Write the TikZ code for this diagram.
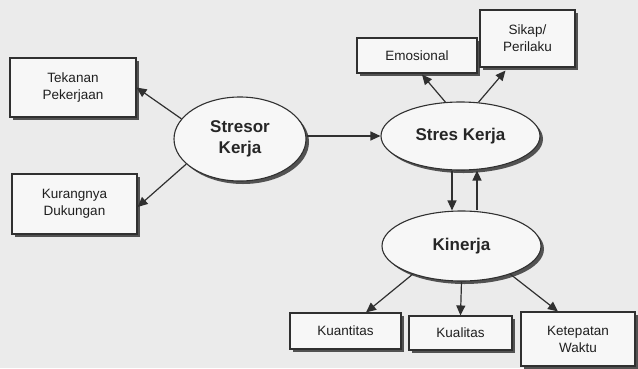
\documentclass[tikz,border=0pt]{standalone}
\usepackage{fontspec}
\setmainfont{Liberation Sans}
\usetikzlibrary{shapes.geometric,shadows,arrows.meta}
\definecolor{bgc}{HTML}{EBEBEB}
\definecolor{linec}{HTML}{303030}
\definecolor{boxfill}{HTML}{F7F7F7}
\begin{document}
\begin{tikzpicture}[x=1pt,y=-1pt,
  shad/.style={drop shadow={shadow xshift=3pt,shadow yshift=-3pt,fill=black!68,opacity=1}},
  box/.style={draw=linec,line width=1.1pt,fill=boxfill,shad,rectangle,inner sep=0pt,
    align=center,font=\fontsize{13.5}{17}\selectfont,text=black!88},
  ell/.style={draw=linec,line width=1.1pt,fill=boxfill,shad,ellipse,inner sep=0pt,
    align=center,font=\fontsize{17}{21}\selectfont\bfseries,text=black!85},
  arr/.style={draw=linec,line width=1.2pt,-{Triangle[length=10pt,width=9pt]}}
]
\fill[bgc] (0,0) rectangle (638,368);
\useasboundingbox (0,0) rectangle (638,368);

% ellipses
\node[ell,minimum width=132pt,minimum height=84pt] (stresor) at (240,139) {Stresor\\Kerja};
\node[ell,minimum width=159pt,minimum height=68pt] (stres) at (460.5,136) {Stres Kerja};
\node[ell,minimum width=159pt,minimum height=70pt] (kinerja) at (461.5,246) {Kinerja};

% boxes
\node[box,minimum width=126pt,minimum height=59pt] (tekanan) at (73,87.5) {Tekanan\\Pekerjaan};
\node[box,minimum width=125pt,minimum height=60pt] (kurang) at (74.5,204) {Kurangnya\\Dukungan};
\node[box,minimum width=120pt,minimum height=35pt] (emo) at (417,55.5) {Emosional};
\node[box,minimum width=95pt,minimum height=57pt] (sikap) at (527.5,38.5) {Sikap/\\Perilaku};
\node[box,minimum width=111pt,minimum height=36pt] (kuan) at (345.5,331) {Kuantitas};
\node[box,minimum width=103pt,minimum height=34pt] (kual) at (460.5,333) {Kualitas};
\node[box,minimum width=114pt,minimum height=54pt] (tepat) at (578,339) {Ketepatan\\Waktu};

% connectors
\draw[arr] (stresor.161) -- (tekanan.east);
\draw[arr] (stresor.205) -- ([yshift=-3pt]kurang.east);
\draw[arr] (stres.west -| stresor.east) -- (stres.west);
\draw[arr] (stres.114) -- ([xshift=5pt,yshift=-1pt]emo.south);
\draw[arr] (stres.62) -- ([xshift=-22pt,yshift=-3pt]sikap.south);
\draw[arr] ([xshift=-8.5pt]stres.south) -- ([xshift=-9.5pt]kinerja.north);
\draw[arr] ([xshift=15.5pt]kinerja.north) -- ([xshift=16.5pt]stres.south);
\draw[arr] (kinerja.210) -- ([xshift=20.5pt]kuan.north);
\draw[arr] (kinerja.south) -- (kual.north);
\draw[arr] (kinerja.330) -- ([xshift=-20pt]tepat.north);
\end{tikzpicture}
\end{document}
